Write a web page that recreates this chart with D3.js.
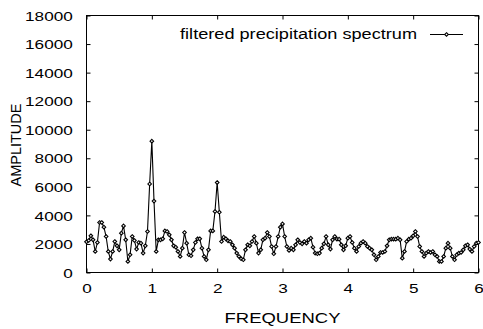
<!DOCTYPE html>
<html>
<head>
<meta charset="utf-8">
<script src="https://cdn.jsdelivr.net/npm/d3@7"></script>
<style>
  html, body { margin: 0; padding: 0; background: #fff; }
  svg { display: block; }
  text { font-family: 'Liberation Sans', Arial, Helvetica, sans-serif; fill: #000; }
</style>
</head>
<body>
<svg id="chart" width="483" height="329"></svg>
<script>
// spectrum sampled every 1/30 of a frequency unit, 0..6
const freqStep = 1 / 30
const amplitude = [
  2150, 2240, 2570, 2290, 1470, 2100, 3500, 3500, 3175, 2520,
  1470, 940, 1470, 2170, 1870, 1590, 2755, 3265, 2290, 770,
  1240, 2520, 2240, 1640, 2100, 2055, 1360, 1870, 2870, 6200,
  9200, 5000, 1470, 2290, 2290, 2360, 2915, 2870, 2640, 2290,
  1870, 1775, 1470, 1120, 1705, 2800, 2055, 1240, 1170, 1590,
  2100, 2360, 2360, 1705, 1120, 890, 1590, 2915, 2915, 4270,
  6300, 4220, 2170, 2475, 2360, 2215, 2170, 1940, 1705, 1360,
  1120, 960, 890, 1590, 1940, 1870, 2170, 2520, 2055, 1360,
  1590, 2290, 2405, 2800, 2520, 1820, 1310, 1820, 2520, 3175,
  3405, 2520, 1820, 1540, 1705, 1590, 1940, 2290, 2100, 2010,
  2170, 2055, 2290, 2405, 1775, 1360, 1310, 1360, 1705, 2010,
  2520, 1940, 1640, 2290, 2520, 2335, 2335, 1940, 1590, 1870,
  2405, 2520, 2100, 1700, 1470, 1820, 2055, 2170, 2055, 1820,
  1705, 1590, 1240, 890, 1120, 1400, 1400, 1470, 1870, 2290,
  2335, 2335, 2335, 2405, 2290, 1005, 1470, 2170, 2335, 2405,
  2570, 2870, 2520, 1820, 1470, 1120, 1360, 1470, 1400, 1470,
  1240, 1120, 770, 770, 1120, 1705, 2055, 1705, 1120, 890,
  1240, 1360, 1400, 1590, 1870, 1940, 1640, 1470, 1820, 2055,
  2100
]
const xTicks = [0, 1, 2, 3, 4, 5, 6]
const yTicks = [0, 2000, 4000, 6000, 8000, 10000, 12000, 14000, 16000, 18000]
const seriesLabel = 'filtered precipitation spectrum'
const xTitle = 'FREQUENCY'
const yTitle = 'AMPLITUDE'

const width = 483
const height = 329
const plot = { left: 86.5, right: 478.5, top: 15.5, bottom: 272.5 }
const SX = 1.32 // the original lettering is stretched sideways
const tickLen = 4

const points = amplitude.map((v, i) => ({ f: i * freqStep, v }))

const svg = d3.select('#chart')

const x = d3.scaleLinear().domain([0, 6]).range([plot.left, plot.right])
const y = d3.scaleLinear().domain([0, 18000]).range([plot.bottom, plot.top])

// ticks pointing inward on all four sides
const bottomAxis = svg.append('g')
  .attr('transform', `translate(0,${plot.bottom})`)
  .call(d3.axisBottom(x).tickValues(xTicks).tickSize(-tickLen).tickPadding(11.3).tickFormat(d3.format('d')))
bottomAxis.selectAll('text')
  .attr('transform', `scale(${SX},1)`)
  .style('font-size', '13px')

const leftAxis = svg.append('g')
  .attr('transform', `translate(${plot.left},0)`)
  .call(d3.axisLeft(y).tickValues(yTicks).tickSize(-tickLen).tickPadding(10.4).tickFormat(d3.format('d')))
leftAxis.selectAll('text')
  .attr('transform', `scale(${SX},1)`)
  .attr('dy', '0.36em')
  .style('font-size', '13px')

svg.append('g')
  .attr('transform', `translate(0,${plot.top})`)
  .call(d3.axisTop(x).tickValues(xTicks).tickSize(-tickLen).tickFormat(''))

svg.append('g')
  .attr('transform', `translate(${plot.right},0)`)
  .call(d3.axisRight(y).tickValues(yTicks).tickSize(-tickLen).tickFormat(''))

svg.selectAll('.domain').remove()
svg.selectAll('.tick line').attr('stroke', '#000')

// frame
svg.append('rect')
  .attr('x', plot.left)
  .attr('y', plot.top)
  .attr('width', plot.right - plot.left)
  .attr('height', plot.bottom - plot.top)
  .attr('fill', 'none')
  .attr('stroke', '#000')
  .attr('stroke-width', 1)

// series line
const line = d3.line()
  .x(d => x(d.f))
  .y(d => y(d.v))

svg.append('path')
  .datum(points)
  .attr('fill', 'none')
  .attr('stroke', '#000')
  .attr('stroke-width', 1.1)
  .attr('d', line)

const diamond = r => `M0,${-r}L${r},0L0,${r}L${-r},0Z`

svg.selectAll('.pt')
  .data(points)
  .enter()
  .append('path')
  .classed('pt', true)
  .attr('transform', d => `translate(${x(d.f)},${y(d.v)})`)
  .attr('d', diamond(1.8))
  .attr('fill', '#fff')
  .attr('stroke', '#000')
  .attr('stroke-width', 1.1)

// legend
const legend = svg.append('g')
legend.append('g')
  .attr('transform', `translate(417,39) scale(${SX},1)`)
  .append('text')
  .attr('text-anchor', 'end')
  .style('font-size', '13.75px')
  .text(seriesLabel)

legend.append('line')
  .attr('x1', 430).attr('x2', 463)
  .attr('y1', 34.5).attr('y2', 34.5)
  .attr('stroke', '#000')
  .attr('stroke-width', 1)

legend.append('path')
  .attr('transform', 'translate(446.5,34.5)')
  .attr('d', diamond(1.8))
  .attr('fill', '#fff')
  .attr('stroke', '#000')
  .attr('stroke-width', 1.1)

// axis titles
svg.append('g')
  .attr('transform', `translate(${(plot.left + plot.right) / 2},322.7) scale(${SX},1)`)
  .append('text')
  .attr('text-anchor', 'middle')
  .style('font-size', '14px')
  .text(xTitle)

svg.append('text')
  .attr('transform', 'translate(20.6,145) rotate(-90)')
  .attr('text-anchor', 'middle')
  .style('font-size', '14.5px')
  .text(yTitle)
</script>
</body>
</html>
